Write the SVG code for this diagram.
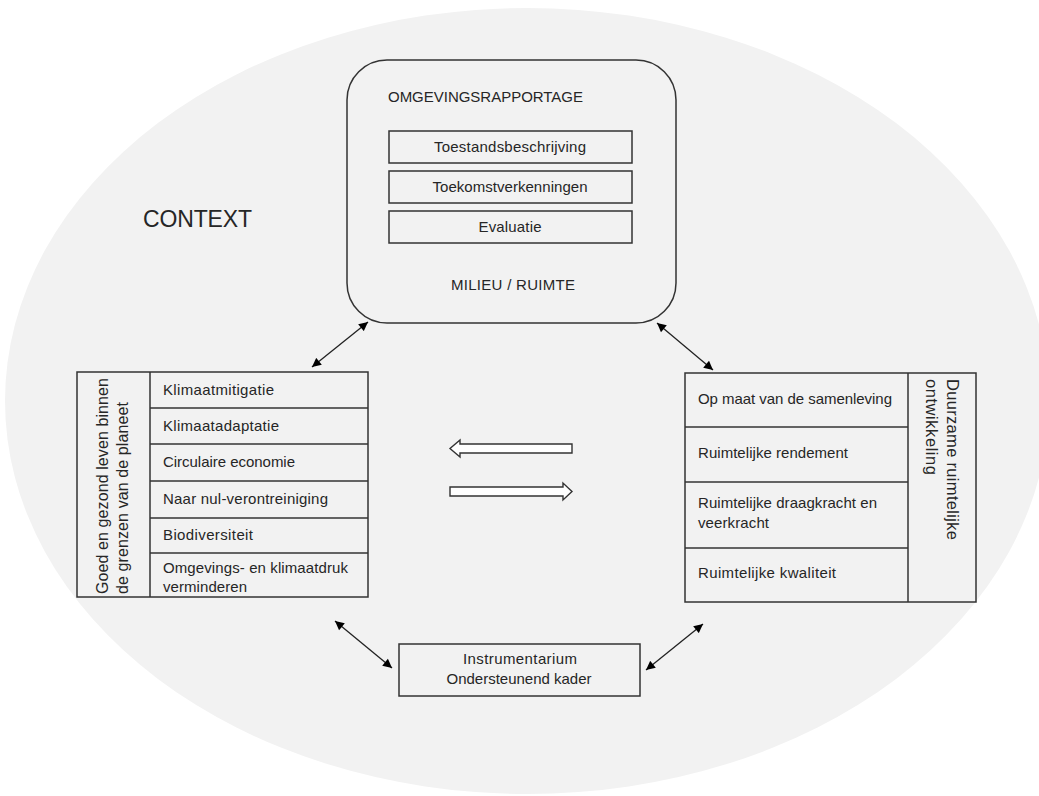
<svg xmlns="http://www.w3.org/2000/svg" width="1039" height="796" viewBox="0 0 1039 796">
<style>
  text { font-family: "Liberation Sans", Arial, sans-serif; fill: #262626; font-size: 15px; }
  .box { fill: none; stroke: #333; stroke-width: 1.5; }
  .fillbox { fill: #f2f2f2; stroke: #333; stroke-width: 1.5; }
  .c { text-anchor: middle; }
  .conn { stroke: #222; stroke-width: 1.3; fill: none; marker-start: url(#ah); marker-end: url(#ah); }
  .block { fill: #fff; stroke: #333; stroke-width: 1.4; }
</style>
<defs>
  <marker id="ah" viewBox="0 0 10 10" refX="10" refY="5" markerUnits="userSpaceOnUse" markerWidth="11" markerHeight="9" orient="auto-start-reverse">
    <path d="M0,0 L10,5 L0,10 z" fill="#000"/>
  </marker>
</defs>
<rect x="0" y="0" width="1039" height="796" fill="#fff"/>
<g id="context">
  <ellipse cx="527" cy="401" rx="522" ry="393" fill="#f2f2f2"/>
  <text x="143" y="227" font-size="23" style="font-size:23px" textLength="109">CONTEXT</text>
</g>
<g id="omgevingsrapportage">
  <rect class="fillbox" x="347" y="60" width="329" height="263" rx="40" ry="40"/>
  <text x="388" y="102" textLength="195">OMGEVINGSRAPPORTAGE</text>
  <rect class="box" x="389" y="131" width="243" height="32"/>
  <text class="c" x="510" y="152" textLength="152">Toestandsbeschrijving</text>
  <rect class="box" x="389" y="171" width="243" height="32"/>
  <text class="c" x="510" y="192" textLength="155">Toekomstverkenningen</text>
  <rect class="box" x="389" y="211" width="243" height="32"/>
  <text class="c" x="510" y="232" textLength="63">Evaluatie</text>
  <text class="c" x="513" y="290" textLength="124">MILIEU / RUIMTE</text>
</g>
<g id="goed-en-gezond">
  <rect class="box" x="77" y="372" width="291" height="225"/>
  <line class="box" x1="150" y1="372" x2="150" y2="597"/>
  <line class="box" x1="150" y1="408" x2="368" y2="408"/>
  <line class="box" x1="150" y1="444" x2="368" y2="444"/>
  <line class="box" x1="150" y1="481" x2="368" y2="481"/>
  <line class="box" x1="150" y1="518" x2="368" y2="518"/>
  <line class="box" x1="150" y1="553" x2="368" y2="553"/>
  <text transform="translate(108,594) rotate(-90)" style="font-size:16px" textLength="216">Goed en gezond leven binnen</text>
  <text transform="translate(128,594) rotate(-90)" style="font-size:16px" textLength="192">de grenzen van de planeet</text>
  <text x="163" y="395" textLength="111">Klimaatmitigatie</text>
  <text x="163" y="431" textLength="116">Klimaatadaptatie</text>
  <text x="163" y="467" textLength="132">Circulaire economie</text>
  <text x="163" y="504" textLength="165">Naar nul-verontreiniging</text>
  <text x="163" y="540" textLength="90">Biodiversiteit</text>
  <text x="163" y="573" textLength="185">Omgevings- en klimaatdruk</text>
  <text x="163" y="592" textLength="84">verminderen</text>
</g>
<g id="duurzame-ruimtelijke-ontwikkeling">
  <rect class="box" x="685" y="373" width="291" height="229"/>
  <line class="box" x1="908" y1="373" x2="908" y2="602"/>
  <line class="box" x1="685" y1="427" x2="908" y2="427"/>
  <line class="box" x1="685" y1="482" x2="908" y2="482"/>
  <line class="box" x1="685" y1="548" x2="908" y2="548"/>
  <text x="698" y="404" textLength="194">Op maat van de samenleving</text>
  <text x="698" y="458" textLength="150">Ruimtelijke rendement</text>
  <text x="698" y="508" textLength="179">Ruimtelijke draagkracht en</text>
  <text x="698" y="528" textLength="71">veerkracht</text>
  <text x="698" y="578" textLength="138">Ruimtelijke kwaliteit</text>
  <text transform="translate(947,379) rotate(90)" style="font-size:16.5px" textLength="161">Duurzame ruimtelijke</text>
  <text transform="translate(926,379) rotate(90)" style="font-size:16.5px" textLength="96">ontwikkeling</text>
</g>
<g id="instrumentarium">
  <rect class="box" x="399" y="644" width="241" height="52"/>
  <text class="c" x="520" y="664" textLength="114">Instrumentarium</text>
  <text class="c" x="519" y="684" textLength="145">Ondersteunend kader</text>
</g>
<g id="connectors">
  <line class="conn" x1="312" y1="367" x2="368" y2="322"/>
  <line class="conn" x1="657" y1="323" x2="713" y2="370"/>
  <line class="conn" x1="335" y1="621" x2="392" y2="668"/>
  <line class="conn" x1="703" y1="624" x2="646" y2="670"/>
  <polygon class="block" points="572,444 460,444 460,440 450,448.5 460,457 460,453 572,453"/>
  <polygon class="block" points="450,487 563,487 563,483 572,491.5 563,500 563,496 450,496"/>
</g>
</svg>
